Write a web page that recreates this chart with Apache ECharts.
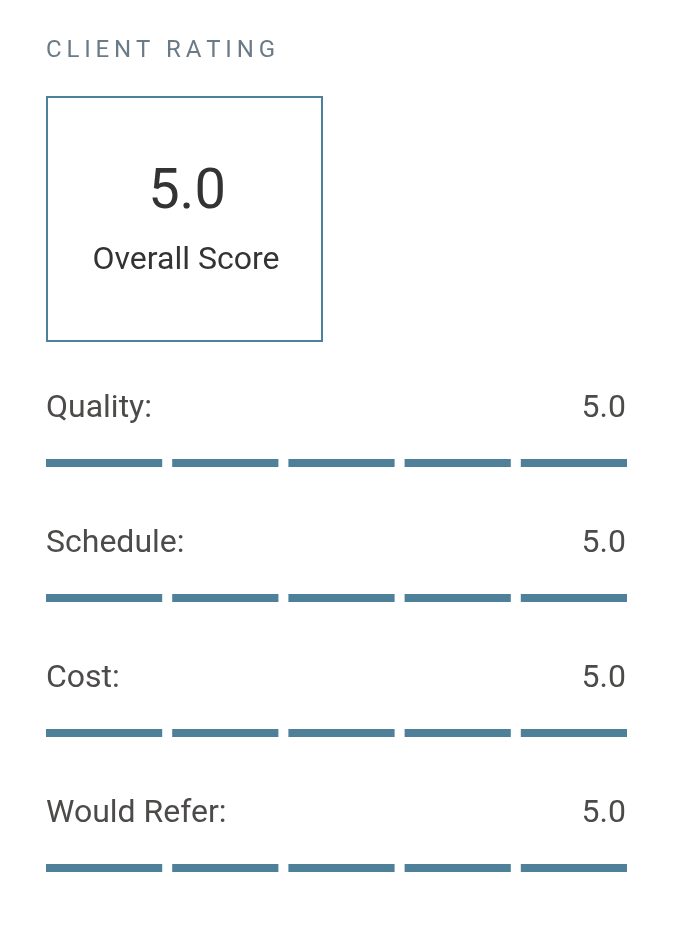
<!DOCTYPE html>
<html>
<head>
<meta charset="utf-8">
<script src="https://cdn.jsdelivr.net/npm/echarts@6/dist/echarts.min.js"></script>
<style>
  html, body { margin: 0; padding: 0; background: #ffffff; }
  #chart { width: 690px; height: 936px; }
</style>
</head>
<body>
<div id="chart"></div>
<script>
// ---- data ----
const titleText = 'CLIENT RATING';
const overallLabel = 'Overall Score';
const overallScore = 5.0;
const categories = ['Quality:', 'Schedule:', 'Cost:', 'Would Refer:'];
const scores = [5.0, 5.0, 5.0, 5.0];
const maxScore = 5;

// ---- styles ----
const FONT = 'Roboto, "Noto Sans", sans-serif';
const barColor = '#4e8099';
const emptyColor = '#e3e3e3';
const labelColor = '#4d4b4a';

const chart = echarts.init(document.getElementById('chart'), null, { renderer: 'canvas' });

// letter-spaced title, one text element per character
const titleFont = '400 24px ' + FONT;
const mctx = document.createElement('canvas').getContext('2d');
mctx.font = titleFont;
const titleLeft = 46, titleRight = 275;
const chars = Array.from(titleText);
const natural = chars.reduce((s, ch) => s + mctx.measureText(ch).width, 0);
const letterSpacing = (titleRight - titleLeft - natural) / (chars.length - 1);
const titleEls = [];
let tx = titleLeft;
for (const ch of chars) {
  titleEls.push({
    type: 'text', x: tx, y: 51,
    style: { text: ch, font: titleFont, fill: '#6b7a87', textAlign: 'left', textVerticalAlign: 'middle' },
    silent: true
  });
  tx += mctx.measureText(ch).width + letterSpacing;
}

const seriesData = categories.map((c, i) => [i, scores[i]]);

chart.setOption({
  animation: false,
  grid: { left: 46, right: 63, top: 463, bottom: 68 },
  xAxis: { type: 'value', min: 0, max: maxScore, show: false },
  yAxis: { type: 'value', min: 0, max: categories.length - 1, inverse: true, show: false },
  graphic: [
    ...titleEls,
    {
      type: 'rect', x: 0, y: 0,
      shape: { x: 47, y: 97, width: 275, height: 244 },
      style: { fill: 'none', stroke: barColor, lineWidth: 2 },
      silent: true
    },
    {
      type: 'text', x: 187, y: 194,
      style: { text: overallScore.toFixed(1), font: '400 56px ' + FONT, fill: '#333333', textAlign: 'center', textVerticalAlign: 'middle' },
      silent: true
    },
    {
      type: 'text', x: 186, y: 261,
      style: { text: overallLabel, font: '400 32px ' + FONT, fill: '#333333', textAlign: 'center', textVerticalAlign: 'middle' },
      silent: true
    }
  ],
  series: [{
    type: 'custom',
    data: seriesData,
    renderItem: function (params, api) {
      const row = api.value(0);
      const score = api.value(1);
      const children = [];
      const barH = 8, gap = 10;
      const yc = api.coord([0, row])[1];
      for (let i = 0; i < maxScore; i++) {
        const x0 = api.coord([i, row])[0] + (i > 0 ? gap : 0);
        const x1 = api.coord([i + 1, row])[0];
        children.push({
          type: 'rect',
          shape: { x: x0, y: yc - barH / 2, width: x1 - x0, height: barH },
          style: { fill: score >= i + 1 ? barColor : emptyColor }
        });
      }
      const xl = api.coord([0, row])[0];
      const xr = api.coord([maxScore, row])[0];
      children.push({
        type: 'text',
        style: { text: categories[params.dataIndex], x: xl, y: yc - 54, font: '400 32px ' + FONT, fill: labelColor, textAlign: 'left', textVerticalAlign: 'middle' }
      });
      children.push({
        type: 'text',
        style: { text: score.toFixed(1), x: xr - 1, y: yc - 54, font: '400 32px ' + FONT, fill: labelColor, textAlign: 'right', textVerticalAlign: 'middle' }
      });
      return { type: 'group', children: children };
    }
  }]
});
</script>
</body>
</html>
